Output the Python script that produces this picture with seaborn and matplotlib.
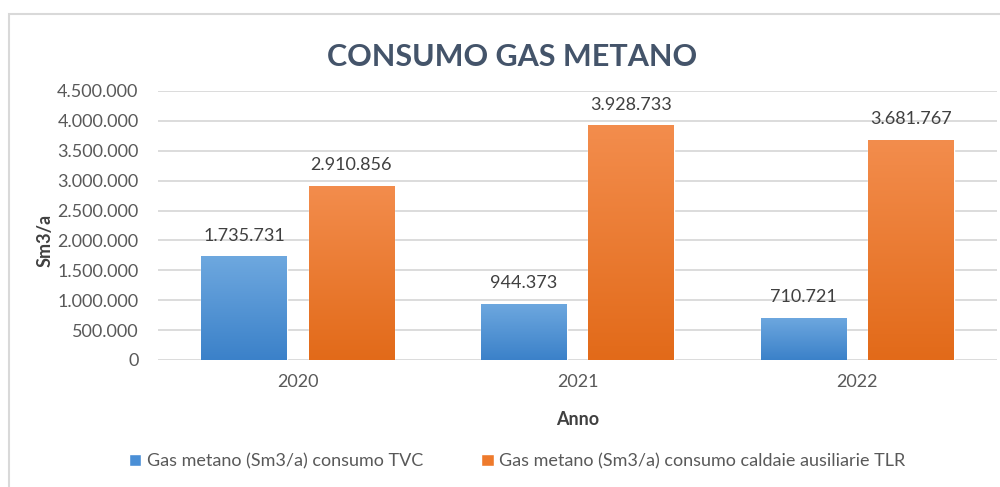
import numpy as np
import pandas as pd
import matplotlib
matplotlib.use("Agg")
import matplotlib.pyplot as plt
from matplotlib.colors import LinearSegmentedColormap
from matplotlib.patches import Patch, Rectangle
import seaborn as sns

# data
years = ["2020", "2021", "2022"]
tvc = [1735731, 944373, 710721]
tlr = [2910856, 3928733, 3681767]
series = ["Gas metano (Sm3/a) consumo TVC",
          "Gas metano (Sm3/a) consumo caldaie ausiliarie TLR"]
yticks = [0, 500000, 1000000, 1500000, 2000000, 2500000, 3000000, 3500000, 4000000, 4500000]

df = pd.DataFrame({
    "Anno": years * 2,
    "valore": tvc + tlr,
    "serie": [series[0]] * 3 + [series[1]] * 3,
})

def it_fmt(v):
    return f"{int(v):,}".replace(",", ".")

sns.set_style("white")
plt.rcParams["font.family"] = ["Lato", "DejaVu Sans"]

base_cols = ["#4A8FD6", "#EE7A2C"]
grads = [
    LinearSegmentedColormap.from_list("b", ["#3B81C9", "#6EA8DF"]),
    LinearSegmentedColormap.from_list("o", ["#E26A19", "#F38D4D"]),
]

fig = plt.figure(figsize=(10, 4.87), dpi=100)
ax = fig.add_axes([0.158, 0.2608, 0.839, 0.5524])

sns.barplot(data=df, x="Anno", y="valore", hue="serie", palette=base_cols,
            width=0.766, gap=0.2, ax=ax, legend=False, saturation=1)

ax.set_ylim(0, 4500000)
ax.set_yticks(yticks)
ax.set_yticklabels([it_fmt(t) for t in yticks])
ax.yaxis.grid(True, color="#D9D9D9", lw=1.3)
ax.set_axisbelow(True)
sns.despine(ax=ax, left=True, bottom=True)
ax.tick_params(axis="both", length=0, labelsize=13, colors="#595959")
ax.tick_params(axis="y", pad=14)
ax.tick_params(axis="x", pad=10)

# gradient fill on each bar
grad = np.linspace(0, 1, 256).reshape(-1, 1)
for i, cont in enumerate(ax.containers):
    for p in cont.patches:
        x0, y0 = p.get_x(), p.get_y()
        w, h = p.get_width(), p.get_height()
        im = ax.imshow(grad, cmap=grads[i], aspect="auto", origin="lower",
                       extent=[x0, x0 + w, y0, y0 + h], zorder=p.get_zorder() + 0.1)
        im.set_clip_path(p)
    ax.bar_label(cont, labels=[it_fmt(v) for v in cont.datavalues],
                 padding=9, fontsize=13, color="#404040")
ax.set_xlim(-0.5, 2.5)
ax.set_ylim(0, 4500000)

ax.set_xlabel("Anno", fontsize=13, fontweight="bold", color="#404040")
ax.set_ylabel("Sm3/a", fontsize=13, fontweight="bold", color="#404040")
ax.xaxis.set_label_coords(0.5, -0.19)
ax.yaxis.set_label_coords(-0.124, 0.446)

fig.text(0.512, 0.883, "CONSUMO GAS METANO", ha="center", va="center",
         fontsize=22, fontweight="bold", color="#44546A")

handles = [Patch(facecolor=base_cols[0]), Patch(facecolor=base_cols[1])]
fig.legend(handles, series, loc="center", bbox_to_anchor=(0.517, 0.053), ncol=2,
           frameon=False, fontsize=13, labelcolor="#595959",
           handlelength=0.7, handleheight=0.7, handletextpad=0.3, columnspacing=3.2)

fig.patches.append(Rectangle((0.009, -0.1), 1.2, 1.071, transform=fig.transFigure,
                             fill=False, edgecolor="#D9D9D9", lw=1.5))

fig.savefig("out.png", dpi=100)
